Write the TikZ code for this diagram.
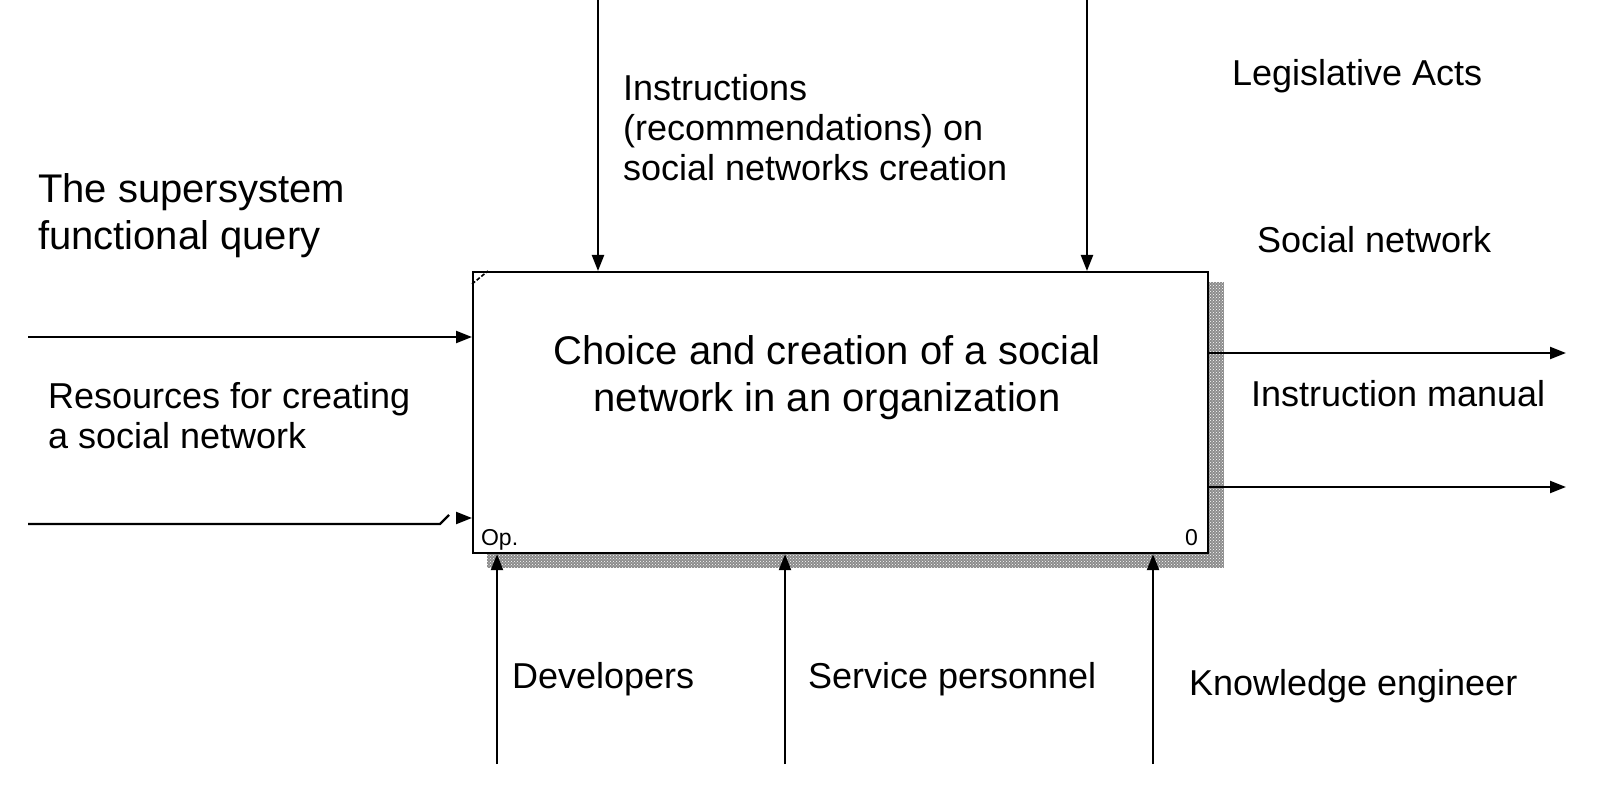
\documentclass[tikz,border=0pt]{standalone}
\usepackage{fontspec}
\setmainfont{Liberation Sans}
\usetikzlibrary{positioning,arrows.meta,calc,patterns}

\begin{document}
\begin{tikzpicture}[x=1pt,y=-1pt,line width=2.2pt,
  >={Triangle[length=16pt,width=12pt]},
  lbl/.style={inner sep=0pt,align=left,font=\fontsize{36}{40}\selectfont},
  big/.style={inner sep=0pt,font=\fontsize{40}{47}\selectfont},
  tag/.style={inner sep=0pt,font=\fontsize{23}{25}\selectfont}]
  \useasboundingbox (0,0) rectangle (1604,791);
  % shadow and activity box
  \fill[black!45] (1207,282) rectangle (1224,568);
  \fill[black!45] (487,552) rectangle (1224,568);
  \fill[pattern=crosshatch dots,pattern color=white] (487,282) rectangle (1224,568);
  \node[draw,fill=white,anchor=north west,minimum width=735,minimum height=281,inner sep=0pt] (box) at (472,271) {};
  \draw[line width=1.6pt,dash pattern=on 4pt off 2pt] ([yshift=-13]box.north west) -- ([xshift=16]box.north west);
  \node[big,align=center] (ttl) at (827,378) {Choice and creation of a social\\network in an organization};
  \node[tag,anchor=base west] (op) at (480,545) {Op.};
  \node[tag,anchor=base east] (nr) at (1199,545) {0};
  % free ends
  \coordinate (i1) at (28,337);
  \coordinate (i2) at (28,524);
  \coordinate (i2a) at (440,524);
  \coordinate (i2b) at (449,515);
  \coordinate (i2c) at (456,518);
  \coordinate (c1) at (598,0);
  \coordinate (c2) at (1087,0);
  \coordinate (m1) at (497,764);
  \coordinate (m2) at (785,764);
  \coordinate (m3) at (1153,764);
  \coordinate (o1) at (1566,353);
  \coordinate (o2) at (1566,487);
  % inputs
  \draw[->] (i1) -- (i1 -| box.west);
  \draw (i2) -- (i2a) -- (i2b);
  \draw[->] (i2c) -- (i2c -| box.west);
  % controls
  \draw[->] (c1) -- (c1 |- box.north);
  \draw[->] (c2) -- (c2 |- box.north);
  % mechanisms
  \draw[->] (m1) -- (m1 |- box.south);
  \draw[->] (m2) -- (m2 |- box.south);
  \draw[->] (m3) -- (m3 |- box.south);
  % outputs
  \draw[->] (o1 -| box.east) -- (o1);
  \draw[->] (o2 -| box.east) -- (o2);
  % labels
  \node[lbl,anchor=north west] (lc1) at (622,73) {Instructions\\(recommendations) on\\social networks creation};
  \node[lbl,anchor=base west] (lc2) at (1231,86) {Legislative Acts};
  \node[big,align=left,anchor=north west] (li1) at (37,172) {The supersystem\\functional query};
  \node[lbl,anchor=north west] (li2) at (47,381) {Resources for creating\\a social network};
  \node[lbl,anchor=base west] (lo1) at (1256,253) {Social network};
  \node[lbl,anchor=base west] (lo2) at (1250,407) {Instruction manual};
  \node[lbl,anchor=base west] (lm1) at (511,688) {Developers};
  \node[lbl,anchor=base west] (lm2) at (807,688) {Service personnel};
  \node[lbl,anchor=base west] (lm3) at (1188,695) {Knowledge engineer};
\end{tikzpicture}
\end{document}
